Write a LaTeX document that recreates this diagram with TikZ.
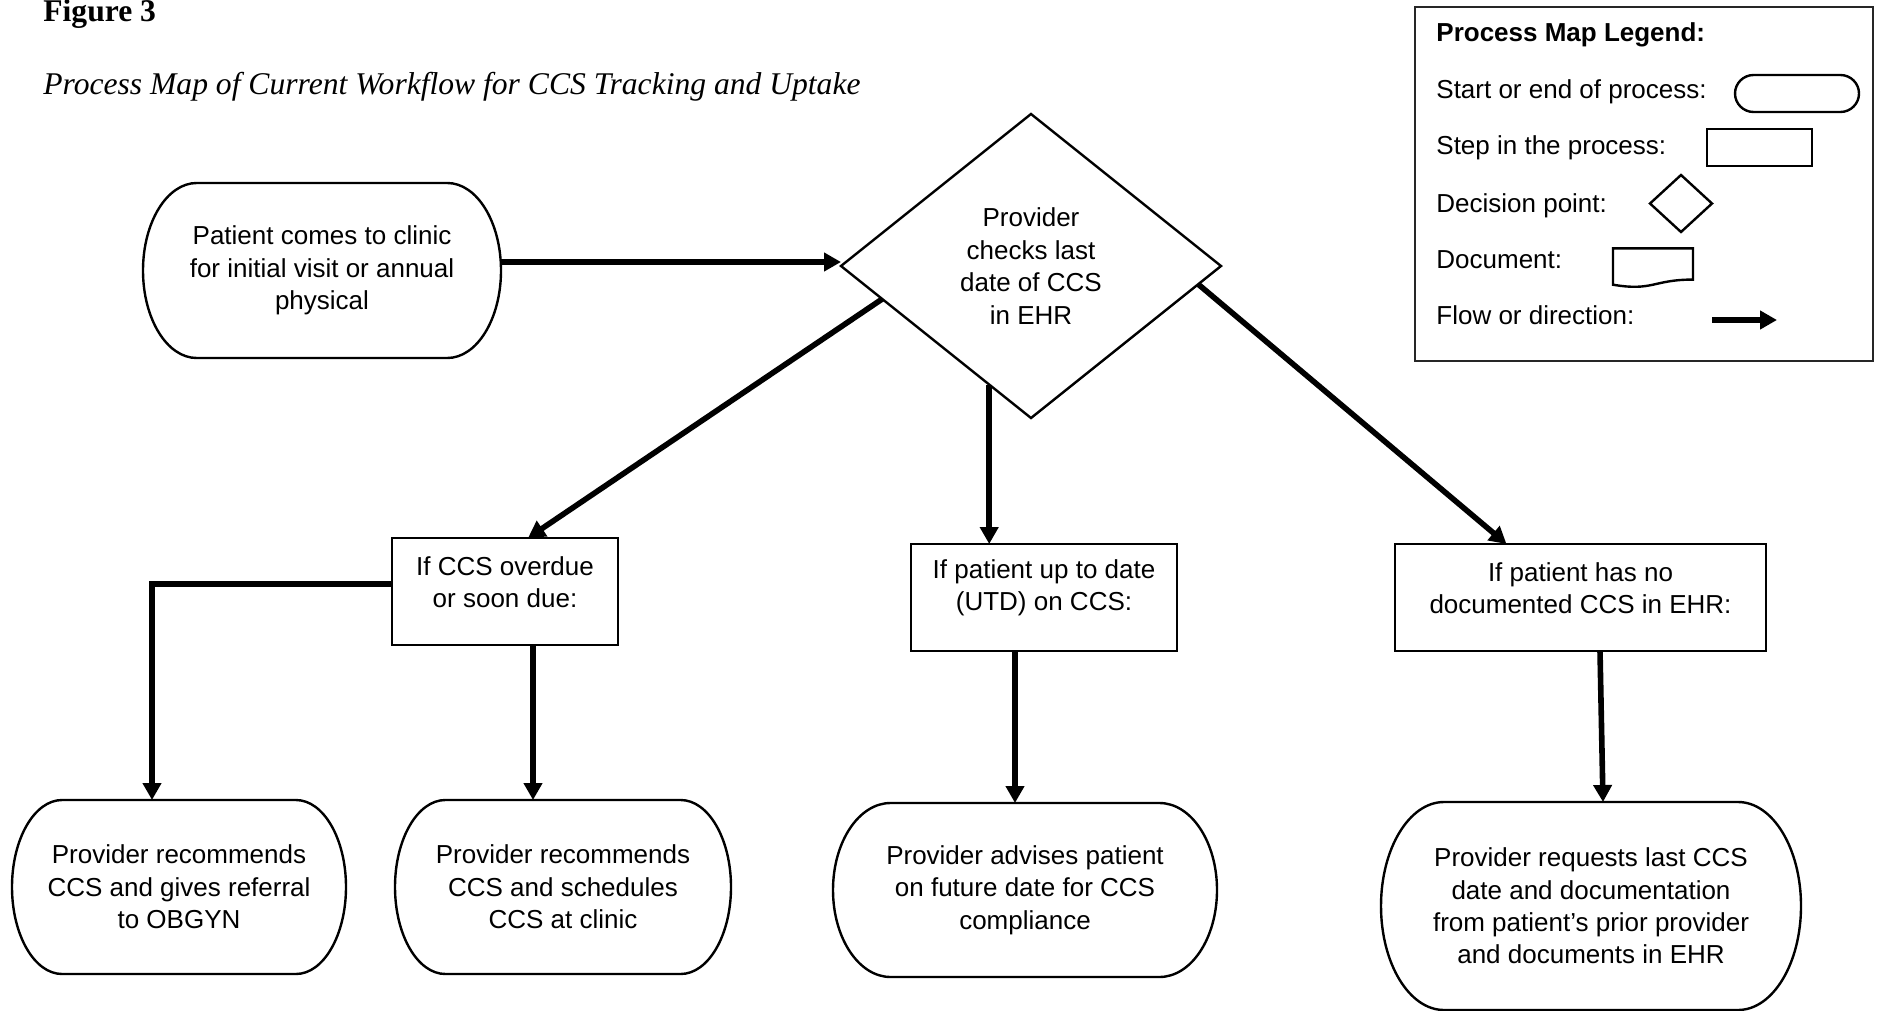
\documentclass[tikz,border=0pt]{standalone}
\usepackage{fontspec}
\usetikzlibrary{shapes.geometric,arrows.meta,calc}
\newfontfamily\bodyfont{Liberation Sans}
\newfontfamily\titlefont{Liberation Serif}
\newcommand\bodytext{\bodyfont\fontsize{13}{16.2}\selectfont}
\newcommand\titletext{\titlefont\fontsize{15.8}{19}\selectfont}
\tikzset{
  outline/.style={line width=1.2pt, black},
  stepbox/.style={draw, line width=1.3pt, rectangle, inner sep=0pt, outer sep=0pt},
  termnode/.style={rectangle, inner sep=0pt, outer sep=0pt, align=center, font=\bodytext},
  decision/.style={draw, diamond, line width=1.2pt, inner sep=0pt, outer sep=0pt, align=center, font=\bodytext},
  txt/.style={align=center, font=\bodytext, inner sep=0pt},
  legtxt/.style={anchor=base west, font=\bodytext, inner sep=0pt},
  flow/.style={line width=2.8pt, -{Triangle[width=9pt,length=8.5pt]}},
}
\begin{document}
\begin{tikzpicture}[x=0.5pt,y=-0.5pt]
\useasboundingbox (0,0) rectangle (1879,1011);

% titles
\node[anchor=base west, inner sep=0pt] (fig) at (43,22) {\titletext\bfseries Figure 3};
\node[anchor=base west, inner sep=0pt] (subt) at (43,95) {\titletext\itshape Process Map of Current Workflow for CCS Tracking and Uptake};

% main nodes
\node[termnode, minimum width=179pt, minimum height=87.5pt] (start) at (322,270.5)
  {Patient comes to clinic\\for initial visit or annual\\physical};
\node[decision, minimum width=190pt, minimum height=152pt] (d) at (1031,266)
  {Provider\\checks last\\date of CCS\\in EHR};

\node[stepbox, minimum width=113pt, minimum height=53.5pt] (b1) at (505,591.5) {};
\node[txt] (t1) at (505,582) {If CCS overdue\\or soon due:};
\node[stepbox, minimum width=133pt, minimum height=53.5pt] (b2) at (1044,597.5) {};
\node[txt] (t2) at (1044,588) {If patient up to date\\(UTD) on CCS:};
\node[stepbox, minimum width=185.5pt, minimum height=53.5pt] (b3) at (1580.5,597.5) {};
\node[txt] (t3) at (1580.5,588) {If patient has no\\documented CCS in EHR:};

\node[termnode, minimum width=167pt, minimum height=87pt] (r1) at (179,887)
  {Provider recommends\\CCS and gives referral\\to OBGYN};
\node[termnode, minimum width=168pt, minimum height=87pt] (r2) at (563,887)
  {Provider recommends\\CCS and schedules\\CCS at clinic};
\node[termnode, minimum width=192pt, minimum height=87pt] (r3) at (1025,890)
  {Provider advises patient\\on future date for CCS\\compliance};
\node[termnode, minimum width=210pt, minimum height=104pt] (r4) at (1591,906)
  {Provider requests last CCS\\date and documentation\\from patient’s prior provider\\and documents in EHR};

% legend
\node[draw=black!85, line width=1.2pt, minimum width=229pt, minimum height=177pt, inner sep=0pt] (leg) at (1644,184) {};
\node[legtxt, font=\bodytext\bfseries] (lt0) at (1436,42) {Process Map Legend:};
\node[legtxt] (lt1) at (1436,98) {Start or end of process:};
\node[legtxt] (lt2) at (1436,155) {Step in the process:};
\node[legtxt] (lt3) at (1436,212) {Decision point:};
\node[legtxt] (lt4) at (1436,268) {Document:};
\node[legtxt] (lt5) at (1436,324) {Flow or direction:};
\node[termnode, minimum width=62pt, minimum height=18.5pt] (lterm) at (1797,93.5) {};
\node[stepbox, line width=1.2pt, minimum width=52.5pt, minimum height=18.5pt] (lrect) at (1759.5,147.5) {};
\node[decision, minimum width=31pt, minimum height=28.5pt] (ldia) at (1681,203.5) {};
\node[termnode, minimum width=40pt, minimum height=19.5pt] (ldoc) at (1653,267.8) {};
\draw[outline] (ldoc.north west) -- (ldoc.north east)
  -- ($(ldoc.north east)!0.802!(ldoc.south east)$)
  .. controls ($(ldoc.north)!0.802!(ldoc.south)$) and ($(ldoc.north)!1.107!(ldoc.south)$)
  .. ($(ldoc.north west)!0.934!(ldoc.south west)$) -- cycle;
\coordinate (la1) at (1712,320);
\coordinate (la2) at (1777,320);
\draw[flow] (la1) -- (la2);

% terminator outlines
\foreach \nm in {start,r1,r2,r3,r4,lterm}{
  \draw[outline] let \p1=(\nm.south west), \p2=(\nm.north east),
      \n1={0.15*(\x2-\x1)}, \n2={0.5*(\y2-\y1)} in
    (\x1+\n1*1pt,\y2) -- (\x2-\n1*1pt,\y2)
    arc[start angle=90,end angle=-90,x radius=\n1*1pt,y radius=\n2*1pt]
    -- (\x1+\n1*1pt,\y1)
    arc[start angle=270,end angle=90,x radius=\n1*1pt,y radius=\n2*1pt] -- cycle;
}

% connectors
\draw[flow] ([yshift=2pt]start.east |- d.west) -- ([yshift=2pt]d.west);
\draw[flow] ($(d.west)!0.217!(d.south)$) -- ([xshift=11.5pt]b1.north);
\coordinate (dm) at ($(d.west)!0.78!(d.south)$);
\draw[flow] (dm) -- (dm |- b2.north);
\draw[flow] ($(d.east)!0.12!(d.south)$) -- ([xshift=-37pt]b3.north);
\draw[flow] ([yshift=3.75pt]b1.west) -| ([xshift=-13.5pt]r1.north);
\draw[flow] ([xshift=14pt]b1.south) -- ([xshift=14pt]b1.south |- r2.north);
\draw[flow] ([xshift=-14.5pt]b2.south) -- ([xshift=-14.5pt]b2.south |- r3.north);
\draw[flow] ([xshift=9.75pt]b3.south) -- ([xshift=6pt]r4.north);
\end{tikzpicture}
\end{document}
